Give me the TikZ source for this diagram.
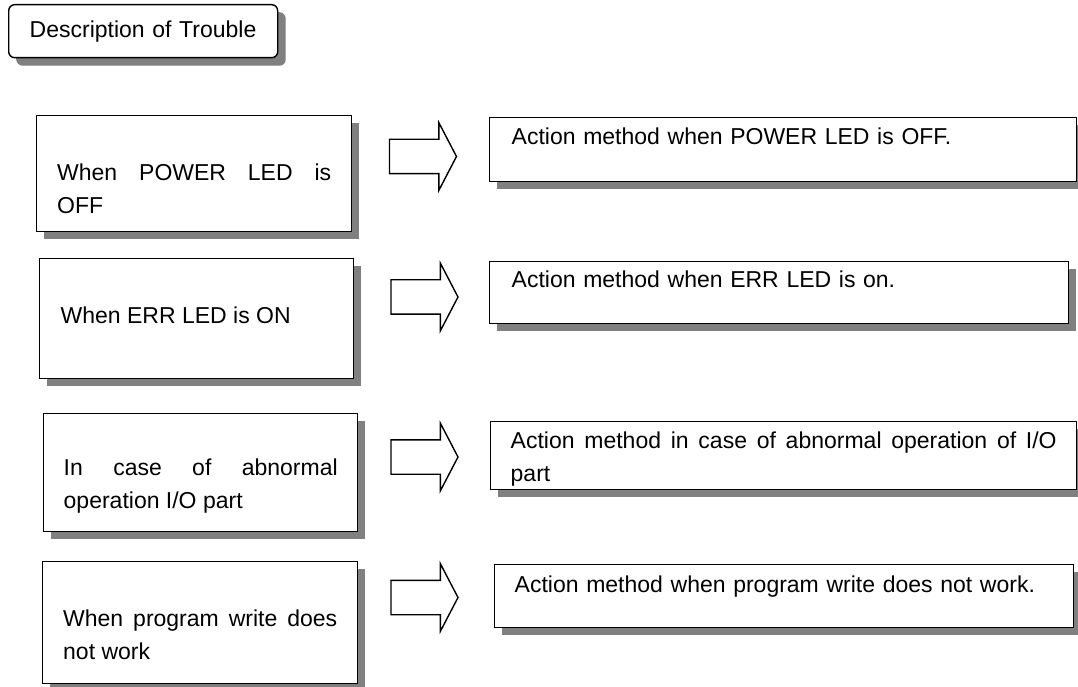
\documentclass[tikz,border=0pt]{standalone}
\usepackage{fontspec}
\setmainfont{Liberation Sans}
\usetikzlibrary{shapes.arrows, shadows, positioning}
\definecolor{framestroke}{HTML}{000000}
\definecolor{shadowgray}{HTML}{808080}
\tolerance=9999
\hyphenpenalty=10000

\begin{document}
\begin{tikzpicture}[
    x=1pt, y=1pt,
    font=\fontsize{23}{33}\selectfont,
    casebox/.style={rectangle, draw=framestroke, fill=white, line width=1.4pt, anchor=north west, inner ysep=0pt, align=justify, drop shadow={shadow xshift=7.5pt, shadow yshift=-7.5pt, fill=shadowgray, opacity=1}},
    actionbox/.style={casebox, align=left},
    headbox/.style={casebox, align=left, rounded corners=6pt, drop shadow={shadow xshift=8pt, shadow yshift=-8pt, fill=shadowgray, opacity=1}},
    flowarrow/.style={single arrow, draw=framestroke, fill=white, line width=1.4pt, inner xsep=0pt, inner ysep=16.5pt, minimum height=67pt, single arrow head extend=16.5pt, single arrow tip angle=125}
]
    \useasboundingbox (0,0) rectangle (1078,686);

    % Header
    \node[headbox, text width=227pt, inner xsep=21pt, text height=33pt, text depth=20pt] (title) at (8,682) {Description of Trouble};

    % Trouble cases
    \node[casebox, text width=274pt, inner xsep=20.5pt, text height=65pt, text depth=51pt] (pwr_case) at (36,571) {When POWER LED is\linebreak OFF};
    \node[casebox, text width=272pt, inner xsep=21pt, text height=65pt, text depth=55pt] (err_case) at (39,428) {When ERR LED is ON};
    \node[casebox, text width=274pt, inner xsep=20pt, text height=62pt, text depth=56pt] (io_case) at (43,273) {In case of abnormal\linebreak operation I/O part};
    \node[casebox, text width=274pt, inner xsep=20.5pt, text height=65pt, text depth=57pt] (prog_case) at (42,125) {When program write does\linebreak not work};

    % Actions
    \node[actionbox, text width=543pt, inner xsep=22pt, text height=27pt, text depth=37pt] (pwr_action) at (489,569) {Action method when POWER LED is OFF.};
    \node[actionbox, text width=535pt, inner xsep=22pt, text height=26pt, text depth=36pt] (err_action) at (489,425) {Action method when ERR LED is on.};
    \node[casebox, text width=546pt, inner xsep=20pt, text height=27pt, text depth=41pt] (io_action) at (490,265) {Action method in case of abnormal operation of I/O\linebreak part};
    \node[actionbox, text width=539pt, inner xsep=20pt, text height=28pt, text depth=35pt] (prog_action) at (494,122) {Action method when program write does not work.};

    % Flow arrows
    \node[flowarrow] (pwr_flow) at (418.5,529.5) {};
    \node[flowarrow] (err_flow) at (420,389) {};
    \node[flowarrow] (io_flow) at (420,229) {};
    \node[flowarrow] (prog_flow) at (420,88.5) {};

\end{tikzpicture}
\end{document}
